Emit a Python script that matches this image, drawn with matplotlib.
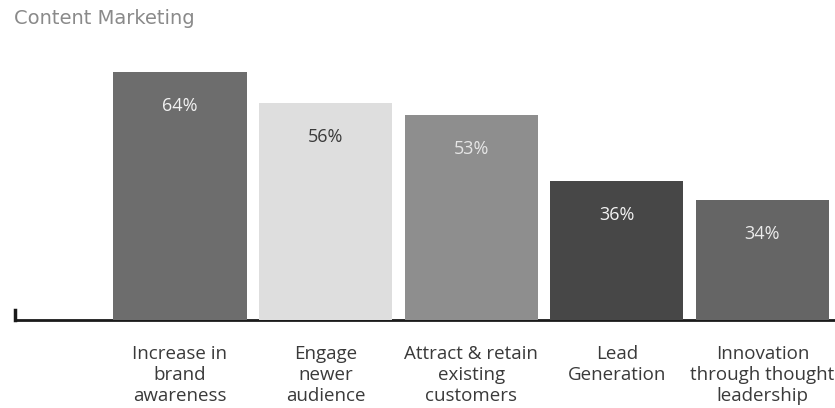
import matplotlib
matplotlib.use("Agg")
import matplotlib.pyplot as plt

plt.rcParams['font.family'] = ['Open Sans', 'DejaVu Sans']

title = "Content Marketing"
categories = ["Increase in\nbrand\nawareness", "Engage\nnewer\naudience",
              "Attract & retain\nexisting\ncustomers", "Lead\nGeneration",
              "Innovation\nthrough thought\nleadership"]
bar_heights = [64, 56, 53, 36, 31]
value_labels = ["64%", "56%", "53%", "36%", "34%"]
bar_colors = ["#6d6d6d", "#dedede", "#8e8e8e", "#474747", "#656565"]
label_colors = ["#f2f2f2", "#3a3a3a", "#e6e6e6", "#f2f2f2", "#ececec"]

W, H = 835, 408
fig = plt.figure(figsize=(W / 100, H / 100), dpi=100)
ax = fig.add_axes([15 / W, 88 / H, 820 / W, 271 / H])

x = list(range(len(categories)))
bars = ax.bar(x, bar_heights, width=0.915, color=bar_colors, zorder=2)
for b, lab, c in zip(bars, value_labels, label_colors):
    ax.annotate(lab, (b.get_x() + b.get_width() / 2, b.get_height()),
                xytext=(0, -24.5), textcoords="offset points",
                ha="center", va="center", fontsize=13, color=c, zorder=3)

ax.set_xlim(-1.133, 4.499)
ax.set_ylim(0, 70)
for s in ["top", "right"]:
    ax.spines[s].set_visible(False)
ax.spines["bottom"].set_linewidth(2)
ax.spines["bottom"].set_color("#1a1a1a")
ax.spines["bottom"].set_zorder(1)
ax.spines["left"].set_linewidth(2.5)
ax.spines["left"].set_color("#1a1a1a")
ax.spines["left"].set_bounds(0, 2.6)
ax.set_yticks([])
ax.set_xticks(x)
ax.set_xticklabels(categories, fontsize=13.5, color="#3a3a3a", linespacing=1.22)
ax.tick_params(axis="x", length=0, pad=18)

fig.text(14 / W, 1 - 18 / H, title, fontsize=14, color="#8a8a8a",
         ha="left", va="center", family=["DejaVu Sans"])

fig.savefig("out.png", dpi=100)
